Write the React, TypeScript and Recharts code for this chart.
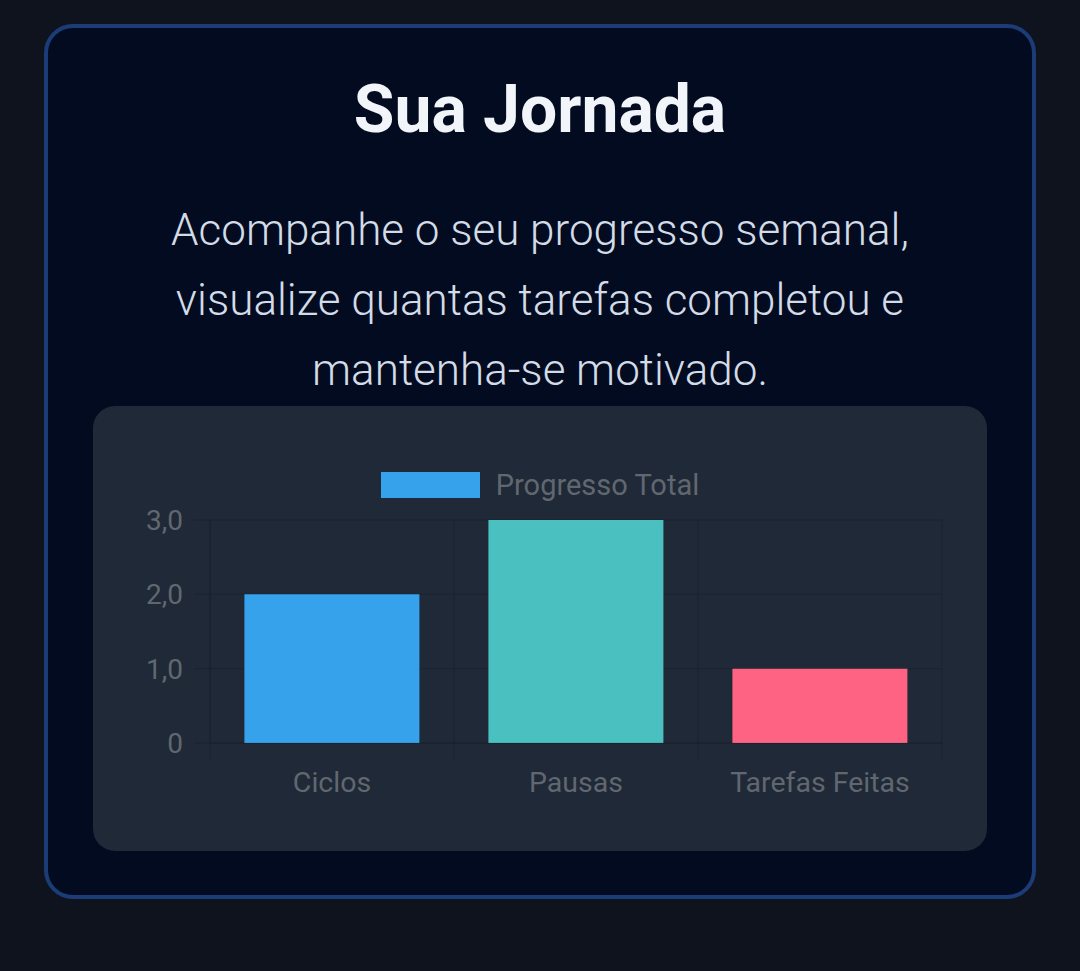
import React from 'react';
import { BarChart, Bar, XAxis, YAxis, CartesianGrid, Legend, Cell } from 'recharts';

const categories = ['Ciclos', 'Pausas', 'Tarefas Feitas'];
const progressValues = [2, 3, 1];
const barColors = ['#36a2eb', '#4bc0c0', '#ff6384'];
const yTicks = [0, 1, 2, 3];
const yTickLabels = ['0', '1,0', '2,0', '3,0'];
const seriesName = 'Progresso Total';

const data = categories.map((name, i) => ({ name, value: progressValues[i] }));

const CHART_W = 894;
const CHART_H = 445;
const Y_AXIS_W = 117;
const RIGHT = 45;
const PLOT_W = CHART_W - Y_AXIS_W - RIGHT;
const BAND = PLOT_W / categories.length;

const gridColor = 'rgba(0,0,0,0.14)';
const tickColor = '#61676f';
const font = 'Roboto, "Noto Sans", sans-serif';

// category boundaries get the small tick marks, like the reference
const CategoryTick = (props: any) => {
  const { x, y, payload, index } = props;
  const half = BAND / 2;
  return (
    <g>
      <line x1={x - half} x2={x - half} y1={y} y2={y + 16} stroke={gridColor} />
      {index === categories.length - 1 && (
        <line x1={x + half} x2={x + half} y1={y} y2={y + 16} stroke={gridColor} />
      )}
      <text x={x} y={y + 49} textAnchor="middle" fill={tickColor} fontSize={28.5} fontFamily={font}>
        {payload.value}
      </text>
    </g>
  );
};

const LegendContent = (props: any) => {
  const item = (props.payload && props.payload[0]) || {};
  return (
    <div style={{ height: 54, display: 'flex', justifyContent: 'center', alignItems: 'flex-start', paddingTop: 6, boxSizing: 'border-box' }}>
      <div style={{ width: 99, height: 26, background: barColors[0] }} />
      <span style={{ marginLeft: 16, fontSize: 29, lineHeight: '26px', color: tickColor, fontFamily: font, whiteSpace: 'nowrap' }}>
        {item.value || seriesName}
      </span>
    </div>
  );
};

export default function App() {
  return (
    <div style={{ position: 'absolute', left: 0, top: 0, width: 1080, height: 971, background: '#0e131d', fontFamily: font, overflow: 'hidden' }}>
      <div
        style={{
          position: 'absolute',
          left: 44,
          top: 24,
          width: 992,
          height: 875,
          boxSizing: 'border-box',
          border: '4px solid #1c3c78',
          borderRadius: 29,
          background: '#020b1f',
        }}
      />
      <div style={{ position: 'absolute', left: 0, width: 1080, top: 75, textAlign: 'center', fontSize: 66, lineHeight: '70px', fontWeight: 700, color: '#f1f5f9' }}>
        Sua Jornada
      </div>
      <div style={{ position: 'absolute', left: 0, width: 1080, top: 195, textAlign: 'center', fontSize: 44, lineHeight: '70px', fontWeight: 300, color: '#d3dbe6' }}>
        Acompanhe o seu progresso semanal,
        <br />
        visualize quantas tarefas completou e
        <br />
        mantenha-se motivado.
      </div>
      <div style={{ position: 'absolute', left: 93, top: 406, width: CHART_W, height: CHART_H, background: '#1f2937', borderRadius: 22 }}>
        <BarChart
          width={CHART_W}
          height={CHART_H}
          data={data}
          margin={{ top: 60, right: RIGHT, left: 0, bottom: 48 }}
          barCategoryGap="14.1%"
        >
          <CartesianGrid
            stroke={gridColor}
            verticalCoordinatesGenerator={({ offset }: any) =>
              categories.map((_, i) => offset.left + i * (offset.width / categories.length)).concat(offset.left + offset.width)
            }
          />
          <Legend verticalAlign="top" content={<LegendContent />} wrapperStyle={{ left: 0, width: CHART_W }} />
          <XAxis
            dataKey="name"
            height={60}
            tickLine={false}
            tickSize={0}
            tickMargin={0}
            axisLine={{ stroke: gridColor }}
            tick={<CategoryTick />}
            interval={0}
          />
          <YAxis
            width={Y_AXIS_W}
            domain={[0, 3]}
            ticks={yTicks}
            tickFormatter={(v: number) => yTickLabels[yTicks.indexOf(v)]}
            tickSize={16}
            tickMargin={11}
            tickLine={{ stroke: gridColor }}
            axisLine={{ stroke: gridColor }}
            tick={{ fill: tickColor, fontSize: 28, fontFamily: font }}
          />
          <Bar dataKey="value" name={seriesName} isAnimationActive={false}>
            {data.map((entry, i) => (
              <Cell key={entry.name} fill={barColors[i]} />
            ))}
          </Bar>
        </BarChart>
      </div>
    </div>
  );
}
